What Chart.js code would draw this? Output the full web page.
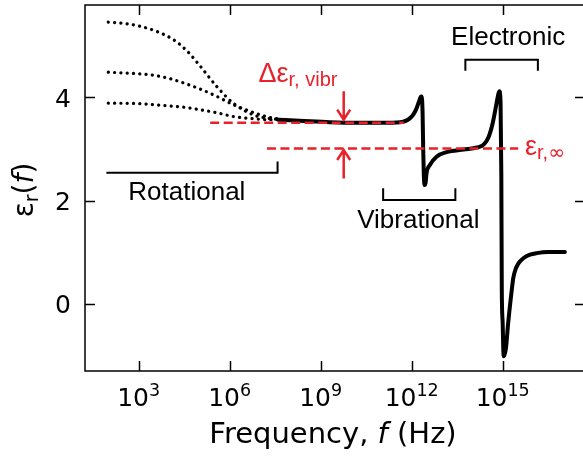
<!DOCTYPE html>
<html>
<head>
<meta charset="utf-8">
<script src="https://cdn.jsdelivr.net/npm/chart.js@4.4.1/dist/chart.umd.min.js"></script>
<style>
html,body{margin:0;padding:0;background:#fff;overflow:hidden;}
#box{position:relative;width:590px;height:459px;}
</style>
</head>
<body>
<div id="box"><canvas id="graf"></canvas></div>
<script>
// dados (log10 da frequencia, permissividade)
const mainLogF = [7.60, 8.30, 9.30, 10.3, 11.2, 11.72, 12.00, 12.14, 12.24, 12.30, 12.33, 12.36, 12.38, 12.40, 12.43, 12.46, 12.49, 12.60, 12.82, 13.15, 13.72, 14.16, 14.38, 14.54, 14.67, 14.78, 14.85, 14.89, 14.93, 14.955, 14.97, 15.00, 15.02, 15.04, 15.08, 15.11, 15.18, 15.30, 15.35, 15.42, 15.52, 15.68, 15.90, 16.12, 16.50, 17.05];
const mainEps  = [3.57, 3.55, 3.52, 3.51, 3.51, 3.53, 3.63, 3.76, 3.92, 4.01, 4.02, 3.70, 3.00, 2.50, 2.30, 2.35, 2.53, 2.69, 2.85, 2.94, 2.99, 3.03, 3.09, 3.24, 3.50, 3.83, 4.05, 4.12, 3.90, 2.50, 0.30, -0.38, -0.90, -1.02, -0.95, -0.85, -0.38, 0.27, 0.50, 0.66, 0.78, 0.88, 0.95, 0.98, 1.00, 1.00];

const dotHighLogF = [2.0, 2.6, 3.06, 3.6, 4.15, 4.6, 5.04, 5.58, 6.12, 6.79, 7.2, 7.65];
const dotHighEps  = [5.46, 5.43, 5.38, 5.28, 5.12, 4.90, 4.60, 4.21, 3.89, 3.66, 3.60, 3.57];
const dotMidLogF  = [2.0, 2.7, 3.39, 4.0, 4.49, 5.04, 5.58, 6.12, 6.68, 7.2, 7.65];
const dotMidEps   = [4.49, 4.47, 4.44, 4.37, 4.28, 4.16, 4.02, 3.86, 3.73, 3.63, 3.58];
const dotLowLogF  = [2.0, 3.0, 3.93, 4.5, 5.04, 5.6, 6.12, 6.7, 7.24, 7.65];
const dotLowEps   = [3.89, 3.88, 3.84, 3.81, 3.76, 3.70, 3.63, 3.59, 3.57, 3.57];

const refVibrLogF = [5.36, 11.74];
const refVibrEps  = [3.51, 3.51];
const refInfLogF  = [7.23, 15.51];
const refInfEps   = [3.01, 3.01];

const rotLogF  = [1.94, 7.58, 7.58];
const rotEps   = [2.54, 2.54, 2.76];
const vibLogF  = [11.06, 11.06, 13.44, 13.44];
const vibEps   = [2.24, 2.01, 2.01, 2.24];
const elecLogF = [13.77, 13.77, 16.16, 16.16];
const elecEps  = [4.52, 4.73, 4.73, 4.52];

const xExpoentes = [3, 6, 9, 12, 15];
const yTicks = [0, 2, 4];

const VERMELHO = '#e8222b';
const FONTE_EIXO = '"DejaVu Sans"';
const FONTE_NOTA = '"Liberation Sans"';

function pontos(logs, vals){
    return logs.map((l, i) => ({x: Math.pow(10, l), y: vals[i]}));
}

function texto(ctx, partes, x, y, alinhar){
    let largura = 0;
    partes.forEach(p => { ctx.font = p.font; largura += ctx.measureText(p.t).width; });
    let cx = alinhar === 'center' ? x - largura / 2 : x;
    ctx.textAlign = 'left';
    ctx.textBaseline = 'alphabetic';
    partes.forEach(p => {
        ctx.font = p.font;
        ctx.fillText(p.t, cx, y + (p.dy || 0));
        cx += ctx.measureText(p.t).width;
    });
}

function seta(ctx, x, y0, y1){
    let dir = y1 > y0 ? 1 : -1;
    ctx.beginPath();
    ctx.moveTo(x, y0);
    ctx.lineTo(x, y1);
    ctx.moveTo(x - 6.5, y1 - dir * 10);
    ctx.lineTo(x, y1);
    ctx.lineTo(x + 6.5, y1 - dir * 10);
    ctx.stroke();
}

const moldura = {
    id: 'moldura',
    afterDatasetsDraw(chart){
        const ctx = chart.ctx;
        const sx = chart.scales.x, sy = chart.scales.y;
        const px = l => sx.getPixelForValue(Math.pow(10, l));
        const py = v => sy.getPixelForValue(v);
        ctx.save();
        // setas do delta
        ctx.strokeStyle = VERMELHO;
        ctx.lineWidth = 2.5;
        ctx.lineCap = 'butt';
        seta(ctx, px(9.76), py(4.12), py(3.57));
        seta(ctx, px(9.76), py(2.43), py(2.98));
        // rotulos vermelhos
        ctx.fillStyle = VERMELHO;
        texto(ctx, [
            {t: '\u0394\u03b5', font: '27px ' + FONTE_NOTA},
            {t: 'r, vibr', font: '20px ' + FONTE_NOTA, dy: 4}
        ], px(6.95), py(4.305), 'left');
        texto(ctx, [
            {t: '\u03b5', font: '27px ' + FONTE_NOTA},
            {t: 'r,', font: '20px ' + FONTE_NOTA, dy: 4},
            {t: '\u221e', font: '20px ' + FONTE_EIXO, dy: 4}
        ], px(15.735), py(2.887), 'left');
        // rotulos pretos
        ctx.fillStyle = '#000';
        texto(ctx, [{t: 'Rotational', font: '26px ' + FONTE_NOTA}], px(4.59), py(2.01), 'center');
        texto(ctx, [{t: 'Vibrational', font: '26px ' + FONTE_NOTA}], px(12.22), py(1.46), 'center');
        texto(ctx, [{t: 'Electronic', font: '26px ' + FONTE_NOTA}], px(15.18), py(5.02), 'center');
        ctx.restore();
    },
    afterDraw(chart){
        const ctx = chart.ctx;
        const a = chart.chartArea;
        const sx = chart.scales.x, sy = chart.scales.y;
        ctx.save();
        ctx.strokeStyle = '#000';
        ctx.lineWidth = 1.5;
        ctx.strokeRect(a.left, a.top, a.right - a.left, a.bottom - a.top);
        ctx.beginPath();
        xExpoentes.forEach(e => {
            let x = Math.round(sx.getPixelForValue(Math.pow(10, e))) + 0.5;
            ctx.moveTo(x, a.bottom); ctx.lineTo(x, a.bottom - 10);
            ctx.moveTo(x, a.top); ctx.lineTo(x, a.top + 10);
        });
        yTicks.forEach(v => {
            let y = Math.round(sy.getPixelForValue(v)) + 0.5;
            ctx.moveTo(a.left, y); ctx.lineTo(a.left + 10, y);
            ctx.moveTo(a.right, y); ctx.lineTo(a.right - 10, y);
        });
        ctx.stroke();
        // rotulos do eixo x com expoente
        ctx.fillStyle = '#000';
        xExpoentes.forEach(e => {
            texto(ctx, [
                {t: '10', font: '25px ' + FONTE_EIXO},
                {t: String(e), font: '17.5px ' + FONTE_EIXO, dy: -10}
            ], sx.getPixelForValue(Math.pow(10, e)), 406, 'center');
        });
        // titulo x
        texto(ctx, [
            {t: 'Frequency, ', font: '29px ' + FONTE_EIXO},
            {t: 'f', font: 'italic 29px ' + FONTE_EIXO},
            {t: ' (Hz)', font: '29px ' + FONTE_EIXO}
        ], (a.left + a.right) / 2 - 2, 443, 'center');
        // titulo y
        ctx.translate(33, (a.top + a.bottom) / 2 + 2);
        ctx.rotate(-Math.PI / 2);
        texto(ctx, [
            {t: '\u03b5', font: '28px ' + FONTE_EIXO},
            {t: 'r', font: '19px ' + FONTE_EIXO, dy: 5},
            {t: '(', font: '28px ' + FONTE_EIXO},
            {t: 'f', font: 'italic 28px ' + FONTE_EIXO},
            {t: ')', font: '28px ' + FONTE_EIXO}
        ], 0, 0, 'center');
        ctx.restore();
    }
};

function linha(logs, vals, extra){
    return Object.assign({
        data: pontos(logs, vals),
        borderColor: '#000',
        borderWidth: 2,
        pointRadius: 0,
        fill: false,
        tension: 0
    }, extra);
}

function grafico(){
    let ctx = document.getElementById('graf');
    let pontilhado = {borderWidth: 3.2, borderDash: [0.1, 6.2], borderCapStyle: 'round', cubicInterpolationMode: 'monotone'};
    let tracejado = {borderColor: VERMELHO, borderWidth: 2.5, borderDash: [9, 4.5]};
    let config = {
        type: 'line',
        data: {
            datasets: [
                linha(refVibrLogF, refVibrEps, tracejado),
                linha(refInfLogF, refInfEps, tracejado),
                linha(mainLogF, mainEps, {borderWidth: 4, cubicInterpolationMode: 'monotone', borderJoinStyle: 'round', borderCapStyle: 'round'}),
                linha(dotHighLogF, dotHighEps, pontilhado),
                linha(dotMidLogF, dotMidEps, pontilhado),
                linha(dotLowLogF, dotLowEps, pontilhado),
                linha(rotLogF, rotEps, {borderWidth: 2}),
                linha(vibLogF, vibEps, {borderWidth: 2}),
                linha(elecLogF, elecEps, {borderWidth: 2})
            ]
        },
        options: {
            responsive: true,
            maintainAspectRatio: false,
            animation: false,
            layout: {padding: {top: 5, right: 5, left: 0, bottom: 0}},
            plugins: {
                legend: {display: false},
                tooltip: {enabled: false}
            },
            scales: {
                x: {
                    type: 'logarithmic',
                    min: Math.pow(10, 1.233),
                    max: Math.pow(10, 17.713),
                    grid: {display: false, drawTicks: false},
                    border: {display: false},
                    ticks: {display: false},
                    afterBuildTicks: s => { s.ticks = xExpoentes.map(e => ({value: Math.pow(10, e)})); },
                    afterFit: s => { s.height = 88; s.paddingLeft = 0; s.paddingRight = 0; }
                },
                y: {
                    min: -1.307,
                    max: 5.794,
                    grid: {display: false, drawTicks: false},
                    border: {display: false},
                    ticks: {color: '#000', padding: 14, labelOffset: 3, font: {family: 'DejaVu Sans', size: 25}},
                    afterBuildTicks: s => { s.ticks = yTicks.map(v => ({value: v})); },
                    afterFit: s => { s.width = 85; s.paddingTop = 0; s.paddingBottom = 0; }
                }
            }
        },
        plugins: [moldura]
    };
    new Chart(ctx, config);
}
grafico();
</script>
</body>
</html>
